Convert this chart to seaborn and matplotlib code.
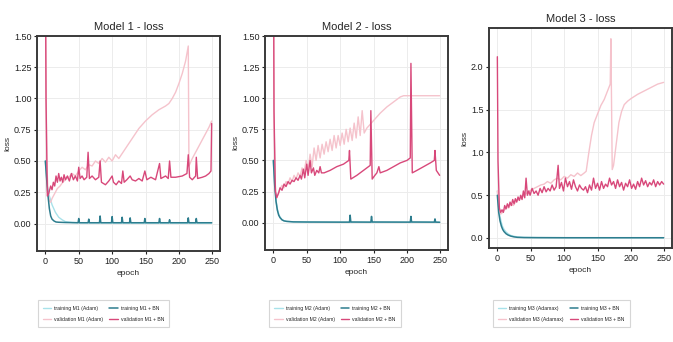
import numpy as np
import pandas as pd
import matplotlib
matplotlib.use("Agg")
import matplotlib.pyplot as plt
import seaborn as sns

# ---------------- Model 1 ----------------
m1_tr_adam_ep = [0, 3, 6, 10, 15, 20, 25, 30, 40, 60, 100, 150, 200, 249]
m1_tr_adam = [0.50, 0.30, 0.22, 0.15, 0.09, 0.05, 0.03, 0.015, 0.008, 0.005, 0.004, 0.003, 0.003, 0.003]

m1_tr_bn_ep = [0, 2, 4, 6, 8, 10, 13, 16, 20, 30, 40, 49, 50, 51, 64, 65, 66, 81, 82, 83,
               99, 100, 101, 114, 115, 116, 126, 127, 128, 148, 149, 150, 170, 171, 172,
               185, 186, 187, 213, 214, 215, 225, 226, 227, 249]
m1_tr_bn = [0.50, 0.35, 0.22, 0.12, 0.06, 0.035, 0.02, 0.012, 0.01, 0.008, 0.007, 0.006, 0.04, 0.006,
            0.006, 0.035, 0.006, 0.006, 0.06, 0.006, 0.006, 0.055, 0.006, 0.006, 0.05, 0.006,
            0.006, 0.045, 0.006, 0.006, 0.04, 0.006, 0.006, 0.04, 0.006, 0.006, 0.03, 0.006,
            0.006, 0.045, 0.006, 0.006, 0.04, 0.006, 0.006]

m1_val_adam_ep = [0, 2, 4, 6, 8, 10, 14, 18, 22, 26, 30, 35, 40, 45, 50, 55, 60, 65, 70, 75,
                  80, 85, 90, 95, 100, 105, 110, 115, 120, 130, 140, 150, 160, 170, 180, 185,
                  190, 195, 200, 205, 210, 214, 215, 220, 225, 230, 235, 240, 245, 249]
m1_val_adam = [2.0, 0.5, 0.25, 0.18, 0.17, 0.2, 0.24, 0.28, 0.3, 0.33, 0.35, 0.37, 0.4, 0.38,
               0.42, 0.45, 0.43, 0.47, 0.46, 0.5, 0.48, 0.52, 0.49, 0.53, 0.5, 0.55, 0.52, 0.56,
               0.6, 0.68, 0.76, 0.82, 0.87, 0.91, 0.94, 0.96, 1.0, 1.05, 1.12, 1.2, 1.3, 1.42,
               0.46, 0.52, 0.57, 0.62, 0.67, 0.72, 0.77, 0.82]

m1_val_bn_ep = [0, 1, 3, 5, 8, 10, 12, 14, 16, 18, 20, 22, 24, 26, 28, 30, 33, 36, 39, 42, 45,
                48, 50, 52, 55, 58, 62, 64, 66, 70, 75, 80, 82, 84, 90, 95, 100, 102, 106, 110,
                114, 116, 118, 122, 127, 130, 135, 140, 145, 149, 152, 158, 165, 171, 173, 180,
                184, 186, 188, 195, 205, 212, 214, 216, 220, 225, 226, 228, 235, 240, 245, 248, 249]
m1_val_bn = [2.2, 1.0, 0.22, 0.24, 0.3, 0.27, 0.33, 0.3, 0.38, 0.33, 0.4, 0.34, 0.37, 0.33,
             0.39, 0.35, 0.38, 0.34, 0.4, 0.35, 0.38, 0.34, 0.45, 0.36, 0.38, 0.35, 0.37, 0.57,
             0.36, 0.38, 0.35, 0.37, 0.5, 0.33, 0.31, 0.34, 0.38, 0.33, 0.31, 0.34, 0.32, 0.42,
             0.33, 0.35, 0.38, 0.35, 0.34, 0.36, 0.34, 0.42, 0.35, 0.37, 0.35, 0.48, 0.36, 0.38,
             0.36, 0.5, 0.37, 0.37, 0.38, 0.4, 0.55, 0.37, 0.35, 0.38, 0.53, 0.36, 0.37, 0.38,
             0.4, 0.42, 0.8]

# ---------------- Model 2 ----------------
m2_tr_adam_ep = [0, 2, 4, 6, 8, 10, 13, 16, 20, 30, 50, 100, 150, 200, 249]
m2_tr_adam = [0.50, 0.30, 0.18, 0.11, 0.07, 0.045, 0.025, 0.015, 0.01, 0.006, 0.004, 0.003, 0.003, 0.003, 0.003]

m2_tr_bn_ep = [0, 2, 4, 6, 8, 10, 13, 16, 20, 30, 50, 100, 114, 115, 116, 146, 147, 148,
               205, 206, 207, 241, 242, 243, 249]
m2_tr_bn = [0.50, 0.30, 0.17, 0.10, 0.06, 0.04, 0.022, 0.014, 0.01, 0.006, 0.005, 0.004,
            0.004, 0.06, 0.005, 0.004, 0.05, 0.005, 0.004, 0.05, 0.005, 0.004, 0.03, 0.004, 0.003]

m2_val_adam_ep = [0, 1, 3, 5, 8, 10, 13, 16, 19, 22, 25, 28, 31, 34, 37, 40, 43, 46, 49, 52,
                  55, 58, 61, 64, 67, 70, 73, 76, 79, 82, 85, 88, 91, 94, 97, 100, 103, 106,
                  109, 112, 115, 118, 121, 124, 127, 130, 133, 136, 140, 150, 160, 170, 180,
                  190, 195, 220, 249]
m2_val_adam = [2.5, 0.8, 0.3, 0.2, 0.24, 0.27, 0.3, 0.28, 0.33, 0.31, 0.36, 0.33, 0.38, 0.35,
               0.4, 0.37, 0.44, 0.4, 0.5, 0.43, 0.55, 0.45, 0.6, 0.5, 0.62, 0.52, 0.63, 0.55,
               0.65, 0.57, 0.67, 0.58, 0.7, 0.6, 0.7, 0.62, 0.72, 0.63, 0.75, 0.65, 0.76, 0.66,
               0.8, 0.68, 0.85, 0.7, 0.9, 0.72, 0.76, 0.82, 0.88, 0.93, 0.97, 1.01, 1.02, 1.02, 1.02]

m2_val_bn_ep = [0, 1, 3, 5, 8, 10, 13, 16, 19, 22, 25, 28, 31, 34, 37, 40, 42, 45, 47, 50,
                52, 55, 57, 60, 62, 65, 68, 70, 72, 76, 85, 95, 105, 113, 114, 116, 125, 135,
                145, 146, 148, 152, 155, 158, 160, 170, 180, 190, 200, 205, 206, 208, 215,
                225, 235, 241, 242, 244, 249]
m2_val_bn = [2.5, 0.9, 0.25, 0.2, 0.24, 0.28, 0.26, 0.31, 0.29, 0.33, 0.31, 0.34, 0.33, 0.36,
             0.34, 0.38, 0.35, 0.43, 0.36, 0.47, 0.38, 0.5, 0.4, 0.44, 0.38, 0.42, 0.4, 0.45,
             0.4, 0.4, 0.42, 0.45, 0.47, 0.5, 0.58, 0.35, 0.38, 0.42, 0.46, 0.9, 0.35, 0.38,
             0.4, 0.45, 0.4, 0.42, 0.45, 0.48, 0.5, 0.52, 1.28, 0.4, 0.42, 0.45, 0.48, 0.5,
             0.58, 0.42, 0.38]

# ---------------- Model 3 ----------------
m3_tr_ep = [0, 2, 4, 6, 8, 10, 13, 16, 20, 25, 30, 40, 60, 100, 150, 200, 249]
m3_tr_adamax = [0.55, 0.35, 0.25, 0.18, 0.13, 0.10, 0.07, 0.05, 0.03, 0.02, 0.012, 0.008, 0.005, 0.004, 0.003, 0.003, 0.003]
m3_tr_bn = [0.50, 0.30, 0.20, 0.14, 0.10, 0.075, 0.05, 0.035, 0.022, 0.013, 0.008, 0.005, 0.004, 0.003, 0.003, 0.003, 0.003]

m3_val_adamax_ep = [0, 3, 5, 8, 11, 14, 17, 20, 24, 28, 32, 36, 40, 45, 50, 55, 60, 65, 70, 75,
                    80, 85, 90, 95, 100, 105, 110, 115, 120, 125, 130, 133, 137, 141, 145, 150,
                    155, 160, 165, 169, 170, 172, 174, 178, 182, 186, 190, 195, 200, 210, 220,
                    230, 240, 249]
m3_val_adamax = [0.55, 0.32, 0.28, 0.3, 0.33, 0.36, 0.35, 0.4, 0.38, 0.43, 0.45, 0.47, 0.5,
                 0.53, 0.56, 0.58, 0.6, 0.62, 0.63, 0.66, 0.64, 0.68, 0.7, 0.68, 0.72, 0.7, 0.74,
                 0.72, 0.76, 0.73, 0.76, 0.78, 1.0, 1.2, 1.35, 1.45, 1.55, 1.62, 1.72, 1.8, 2.33,
                 0.8, 0.85, 1.1, 1.35, 1.48, 1.56, 1.6, 1.63, 1.68, 1.72, 1.76, 1.8, 1.82]

m3_val_bn_ep = [0, 1, 3, 5, 7, 9, 11, 13, 15, 17, 19, 21, 23, 25, 27, 29, 31, 33, 35, 37, 39,
                41, 43, 45, 47, 49, 52, 55, 58, 61, 64, 67, 70, 73, 76, 79, 82, 85, 88, 91, 93,
                96, 99, 102, 105, 108, 111, 114, 117, 120, 123, 126, 129, 132, 135, 138, 141,
                144, 147, 150, 153, 156, 159, 162, 165, 168, 171, 174, 177, 180, 183, 186, 189,
                192, 195, 198, 201, 204, 207, 210, 213, 216, 219, 222, 225, 228, 231, 234, 237,
                240, 243, 246, 249]
m3_val_bn = [2.12, 0.9, 0.35, 0.3, 0.33, 0.3, 0.38, 0.34, 0.4, 0.36, 0.42, 0.38, 0.45, 0.4,
             0.46, 0.42, 0.48, 0.44, 0.5, 0.45, 0.55, 0.47, 0.7, 0.5, 0.55, 0.5, 0.58, 0.52,
             0.55, 0.5, 0.58, 0.53, 0.6, 0.54, 0.58, 0.55, 0.62, 0.56, 0.6, 0.85, 0.58, 0.65,
             0.55, 0.7, 0.6, 0.66, 0.57, 0.68, 0.6, 0.55, 0.62, 0.58, 0.56, 0.6, 0.53, 0.62,
             0.56, 0.7, 0.58, 0.64, 0.56, 0.66, 0.58, 0.63, 0.6, 0.7, 0.62, 0.66, 0.58, 0.68,
             0.6, 0.65, 0.56, 0.64, 0.6, 0.68, 0.58, 0.63, 0.57, 0.66, 0.6, 0.7, 0.62, 0.67,
             0.6, 0.65, 0.62, 0.68, 0.6, 0.66, 0.62, 0.66, 0.63]

titles = ["Model 1 - loss", "Model 2 - loss", "Model 3 - loss"]
labels = [
    ["training M1 (Adam)", "validation M1 (Adam)", "training M1 + BN", "validation M1 + BN"],
    ["training M2 (Adam)", "validation M2 (Adam)", "training M2 + BN", "validation M2 + BN"],
    ["training M3 (Adamax)", "validation M3 (Adamax)", "training M3 + BN", "validation M3 + BN"],
]

series = [
    [(m1_tr_adam_ep, m1_tr_adam), (m1_val_adam_ep, m1_val_adam), (m1_tr_bn_ep, m1_tr_bn), (m1_val_bn_ep, m1_val_bn)],
    [(m2_tr_adam_ep, m2_tr_adam), (m2_val_adam_ep, m2_val_adam), (m2_tr_bn_ep, m2_tr_bn), (m2_val_bn_ep, m2_val_bn)],
    [(m3_tr_ep, m3_tr_adamax), (m3_val_adamax_ep, m3_val_adamax), (m3_tr_ep, m3_tr_bn), (m3_val_bn_ep, m3_val_bn)],
]

colors = ["#a8e2ea", "#f5c3cc", "#2d7d8e", "#d8487a"]
lws = [1.0, 1.0, 1.1, 1.0]

sns.set_theme(style="whitegrid")
plt.rcParams["font.family"] = ["Liberation Sans", "DejaVu Sans"]
plt.rcParams.update({
    "axes.edgecolor": "#3a3a3a",
    "axes.linewidth": 1.4,
    "grid.color": "#ececec",
    "grid.linewidth": 0.7,
    "xtick.bottom": True,
    "ytick.left": True,
    "xtick.major.size": 2.5,
    "ytick.major.size": 2.5,
    "xtick.major.width": 0.8,
    "ytick.major.width": 0.8,
    "xtick.color": "#222222",
    "ytick.color": "#222222",
})

fig = plt.figure(figsize=(6.73, 3.42), dpi=100)
axes_pos = [
    [37 / 673, 91 / 342, 183 / 673, 215 / 342],
    [265 / 673, 92 / 342, 183 / 673, 214 / 342],
    [489 / 673, 94 / 342, 183 / 673, 220 / 342],
]
legend_centers = [(103.5 / 673, 0.082), (335 / 673, 0.082), (561.5 / 673, 0.082)]

for i in range(3):
    ax = fig.add_axes(axes_pos[i])
    for j, (ep, vals) in enumerate(series[i]):
        sns.lineplot(x=ep, y=vals, ax=ax, color=colors[j], lw=lws[j], label=labels[i][j],
                     estimator=None, sort=False)
    ax.set_title(titles[i], fontsize=8, pad=4)
    ax.set_xlabel("epoch", fontsize=6, labelpad=3)
    ax.set_ylabel("loss", fontsize=6, labelpad=2)
    ax.set_xticks([0, 50, 100, 150, 200, 250])
    ax.tick_params(axis="both", labelsize=6.5, pad=1.5)
    ax.set_xlim(-12.5, 261.5)
    if i < 2:
        ax.set_ylim(-0.22, 1.5)
        ax.set_yticks([0.0, 0.25, 0.5, 0.75, 1.0, 1.25, 1.5])
        ax.set_yticklabels(["0.00", "0.25", "0.50", "0.75", "1.00", "1.25", "1.50"])
    else:
        ax.set_ylim(-0.117, 2.456)
        ax.set_yticks([0.0, 0.5, 1.0, 1.5, 2.0])
    for s in ax.spines.values():
        s.set_visible(True)
    ax.get_legend().remove()
    h, l = ax.get_legend_handles_labels()
    leg = fig.legend(h, l, loc="center", bbox_to_anchor=legend_centers[i], ncol=2,
                     fontsize=3.7, frameon=True, handlelength=1.6, handletextpad=0.6,
                     columnspacing=1.2, borderpad=1.0, labelspacing=1.3, fancybox=False)
    leg.get_frame().set_edgecolor("#cccccc")
    leg.get_frame().set_linewidth(0.8)

fig.savefig("out.png", dpi=100)
